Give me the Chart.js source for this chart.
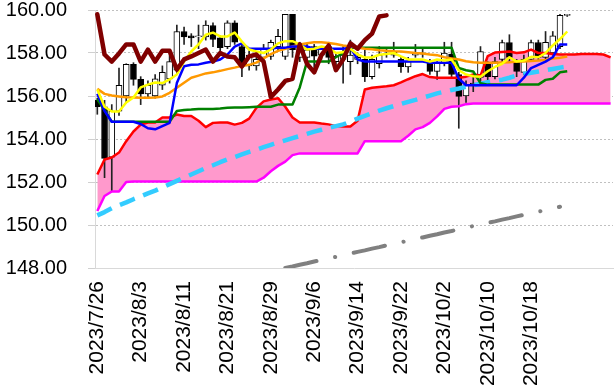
<!DOCTYPE html>
<html>
<head>
<meta charset="utf-8">
<script src="https://cdn.jsdelivr.net/npm/chart.js@4.4.1/dist/chart.umd.min.js"></script>
<style>
  html, body { margin: 0; padding: 0; background: #ffffff; }
  #wrap { width: 615px; height: 388px; }
</style>
</head>
<body>
<div id="wrap"><canvas id="c" width="615" height="388"></canvas></div>
<script>
// ---- categories (trading days; the last 6 slots are future cloud slots without a date)
const dates = ['2023/7/26','2023/7/27','2023/7/28','2023/7/31','2023/8/1','2023/8/2','2023/8/3','2023/8/4','2023/8/7','2023/8/8',
  '2023/8/9','2023/8/10','2023/8/11','2023/8/14','2023/8/15','2023/8/16','2023/8/17','2023/8/18','2023/8/21','2023/8/22',
  '2023/8/23','2023/8/24','2023/8/25','2023/8/28','2023/8/29','2023/8/30','2023/8/31','2023/9/1','2023/9/4','2023/9/5',
  '2023/9/6','2023/9/7','2023/9/8','2023/9/11','2023/9/12','2023/9/13','2023/9/14','2023/9/15','2023/9/18','2023/9/19',
  '2023/9/20','2023/9/21','2023/9/22','2023/9/25','2023/9/26','2023/9/27','2023/9/28','2023/9/29','2023/10/2','2023/10/3',
  '2023/10/4','2023/10/5','2023/10/6','2023/10/9','2023/10/10','2023/10/11','2023/10/12','2023/10/13','2023/10/16','2023/10/17',
  '2023/10/18','2023/10/19','2023/10/20','2023/10/23','2023/10/24','2023/10/25','','','','','',''];
const labelEvery = 6;
const lastLabelIndex = 60;

// ---- y tick labels
const yTicks = [148, 150, 152, 154, 156, 158, 160];

// ---- candles
const open  = [155.8,155.5,153.15,155.3,156.0,157.47,156.77,156.1,156.0,156.5,
  156.8,157.2,159.0,158.8,158.75,158.75,159.28,158.7,158.3,159.4,
  158.3,157.4,157.4,157.8,157.84,158.3,157.84,159.8,157.8,157.8,
  158.3,157.9,158.3,157.6,157.7,157.6,157.7,157.7,156.9,157.5,
  157.95,157.9,157.7,157.35,157.9,158.0,157.56,157.14,157.55,157.95,
  157.0,156.0,156.5,156.86,157.47,156.9,157.7,158.49,157.6,157.1,
  157.7,158.49,157.8,158.0,158.3,159.75];
const high  = [155.9,155.8,155.6,157.3,157.5,157.55,156.9,156.7,157.0,157.4,
  158.1,159.3,159.2,158.9,159.3,159.5,159.4,158.8,159.5,159.5,
  158.4,158.1,157.9,158.4,158.6,159.1,159.8,159.8,158.5,158.4,
  158.4,158.3,158.5,158.0,158.3,158.6,158.0,158.2,157.9,158.3,
  158.2,158.5,157.8,157.8,158.4,158.2,157.7,157.6,158.5,158.5,
  157.1,156.7,156.9,158.3,157.6,157.8,158.6,158.85,157.7,157.9,
  158.6,158.6,159.0,159.0,159.8,159.8];
const low   = [155.15,152.2,151.55,155.1,155.7,156.5,155.6,155.9,155.9,156.3,
  156.6,157.0,158.4,158.3,158.2,158.6,158.3,157.9,158.2,158.4,
  156.9,157.2,157.2,157.6,157.7,158.1,157.7,157.8,157.6,157.5,
  157.2,157.7,157.5,157.3,156.6,157.0,157.5,156.67,156.8,157.3,
  157.8,157.8,157.1,157.1,157.8,157.8,157.0,156.77,157.4,156.9,
  154.5,155.7,156.2,156.7,156.7,156.8,157.5,157.6,156.9,157.0,
  157.6,157.7,157.7,157.9,158.2,159.7];
const close = [155.5,153.1,155.3,156.5,157.47,156.77,156.1,156.5,156.8,157.1,
  157.6,159.0,158.75,158.7,158.8,159.3,158.63,158.25,159.4,158.5,
  157.47,157.9,157.7,158.2,158.5,158.77,159.8,158.16,158.3,158.15,
  157.85,158.2,157.8,157.85,157.9,157.9,157.8,156.9,157.7,157.9,
  158.0,158.05,157.37,157.6,158.0,157.95,157.14,157.56,158.0,157.0,
  155.98,156.5,156.6,158.07,156.9,157.6,158.49,157.8,157.14,157.7,
  158.49,157.8,158.5,158.8,159.75,159.75];

// ---- lines
const tenkan = [156.1,155.3,154.8,154.8,154.8,154.8,154.7,154.5,154.45,154.6,
  154.75,156.6,157.38,157.45,157.47,157.55,157.6,157.7,157.93,158.3,
  158.45,158.2,158.2,158.2,158.2,158.25,158.25,158.3,158.3,158.3,
  158.2,158.2,158.2,158.2,158.2,158.25,157.7,157.6,157.6,157.6,
  157.6,157.6,157.6,157.6,157.6,157.6,157.55,157.55,157.55,157.55,
  156.8,156.5,156.5,156.5,156.5,156.5,156.5,156.5,156.5,156.85,
  157.3,157.45,157.6,157.8,158.4,158.4];
const kijun = [155.85,155.35,154.8,154.8,154.8,154.8,154.8,154.8,154.8,154.8,
  154.8,155.3,155.35,155.37,155.4,155.4,155.4,155.42,155.45,155.46,
  155.46,155.48,155.5,155.5,155.5,155.6,155.6,155.6,156.4,157.6,
  157.6,157.6,157.6,157.8,158.0,158.25,158.25,158.25,158.25,158.25,
  158.25,158.25,158.25,158.25,158.25,158.25,158.25,158.25,158.25,158.25,
  157.3,157.2,157.14,156.6,156.53,156.53,156.53,156.53,156.53,156.53,
  156.53,156.53,156.75,156.8,157.1,157.15];
const spanA = [152.35,153.05,153.14,153.37,153.9,154.35,154.67,154.77,154.77,155.0,
  155.0,155.14,155.07,155.07,154.85,154.55,154.75,154.77,154.77,154.67,
  154.75,154.95,155.45,155.75,155.84,155.9,155.5,155.0,154.77,154.77,
  154.77,154.72,154.68,154.6,154.58,154.58,154.85,156.3,156.38,156.42,
  156.45,156.5,156.63,156.78,156.92,157.02,156.88,156.85,156.85,156.85,
  156.85,156.9,157.0,156.95,157.85,158.02,158.05,158.07,158.0,158.03,
  158.16,158.0,158.0,157.95,157.93,157.93,157.93,157.95,157.95,157.95,
  157.93,157.8];
const spanB = [150.65,151.35,151.56,151.56,152.0,152.02,152.02,152.02,152.02,152.02,
  152.02,152.02,152.02,152.02,152.02,152.02,152.02,152.02,152.02,152.02,
  152.02,152.02,152.02,152.2,152.5,152.75,152.95,153.25,153.33,153.33,
  153.33,153.33,153.33,153.33,153.33,153.33,153.33,153.9,153.9,153.9,
  153.9,153.9,153.9,154.15,154.45,154.55,154.75,155.05,155.4,155.5,
  155.52,155.62,155.65,155.65,155.65,155.65,155.65,155.65,155.65,155.65,
  155.65,155.65,155.65,155.65,155.65,155.65,155.65,155.65,155.65,155.65,
  155.65,155.65];
const chikou = [159.8,157.93,157.6,157.98,158.4,158.4,157.6,158.16,157.6,158.1,
  158.1,157.23,157.7,157.84,158.0,158.16,157.6,158.0,157.84,157.8,
  157.37,157.84,157.93,157.6,155.95,156.3,156.7,156.8,158.4,157.5,
  157.1,157.9,158.35,157.2,157.7,158.45,158.2,158.6,158.9,159.7,
  159.75];
const ma5 = [156.3,155.5,155.28,155.28,155.7,155.93,156.4,156.53,156.63,156.6,
  156.77,157.0,157.6,158.07,158.4,158.85,158.95,158.77,158.77,158.95,
  158.53,158.16,158.07,158.0,158.16,158.45,158.55,158.55,158.4,158.16,
  158.2,158.3,158.25,158.0,158.03,158.2,157.93,157.79,157.79,157.92,
  157.95,158.0,157.84,157.7,157.7,157.7,157.6,157.7,157.65,157.7,
  157.2,157.0,156.92,156.9,157.15,157.35,157.5,157.8,157.6,157.65,
  157.82,157.8,158.0,158.35,158.65,159.0];
const ma25 = [156.33,156.1,156.02,155.98,155.94,155.93,155.92,155.92,155.93,155.98,
  156.15,156.38,156.62,156.85,156.95,157.05,157.1,157.17,157.25,157.32,
  157.4,157.45,157.55,157.75,157.95,158.1,158.2,158.3,158.4,158.45,
  158.5,158.5,158.47,158.42,158.35,158.3,158.25,158.2,158.17,158.13,
  158.1,158.08,158.07,158.04,158.0,157.98,157.93,157.9,157.8,157.75,
  157.7,157.62,157.57,157.55,157.55,157.55,157.56,157.57,157.6,157.6,
  157.63,157.65,157.68,157.74,157.78,157.84];
const ma75 = [150.45,150.6,150.78,150.92,151.05,151.2,151.33,151.47,151.6,151.75,
  151.9,152.05,152.2,152.35,152.5,152.65,152.78,152.92,153.05,153.16,
  153.28,153.4,153.5,153.62,153.73,153.84,153.94,154.04,154.14,154.24,
  154.34,154.43,154.52,154.6,154.68,154.8,154.95,155.08,155.2,155.32,
  155.43,155.53,155.63,155.73,155.82,155.92,156.02,156.12,156.2,156.28,
  156.35,156.43,156.5,156.57,156.64,156.7,156.76,156.85,156.95,157.02,
  157.08,157.14,157.2,157.26,157.32,157.37];
const trendStart = 26;
const trend = [148.0,148.07,148.15,148.22,148.3,148.37,148.45,148.52,148.6,148.67,
  148.75,148.82,148.9,148.97,149.05,149.12,149.2,149.27,149.35,149.42,
  149.5,149.57,149.65,149.72,149.8,149.87,149.95,150.02,150.1,150.17,
  150.25,150.32,150.4,150.47,150.55,150.62,150.7,150.77,150.85];

// ---- helpers
const pts = (arr, start = 0) => arr.map((v, k) => ({ x: start + k, y: v }));
const lineDs = (label, arr, color, width, extra = {}, start = 0) => Object.assign({
  type: 'line', label, data: pts(arr, start), borderColor: color, backgroundColor: color,
  borderWidth: width, pointRadius: 0, tension: 0, fill: false,
  borderJoinStyle: 'round'
}, extra);

const datasets = [
  lineDs('遅行スパン', chikou, '#800000', 4.5, { borderCapStyle: 'round' }),
  lineDs('5日移動平均', ma5, '#FFFF00', 2.5),
  lineDs('転換線', tenkan, '#0000FF', 2.5),
  lineDs('25日移動平均', ma25, '#FF9900', 2.5),
  lineDs('基準線', kijun, '#008000', 2.5),
  lineDs('75日移動平均', ma75, '#33CCFF', 4.5, { borderDash: [16, 9] }),
  lineDs('トレンド', trend, '#808080', 4, { borderDash: [32, 19, 0.1, 19], borderCapStyle: 'round' }, trendStart),
  lineDs('先行スパン1', spanA, '#FF0000', 2.5, { fill: { target: 8 }, backgroundColor: '#FF99CC' }),
  lineDs('先行スパン2', spanB, '#FF00FF', 2.5),
  {
    type: 'bar', label: '実体',
    data: open.map((o, i) => ({ x: i, y: [o, close[i]] })),
    backgroundColor: open.map((o, i) => close[i] >= o ? '#FFFFFF' : '#000000'),
    borderColor: '#000000', borderWidth: 1, borderSkipped: false,
    barThickness: 6, grouped: false, minBarLength: 1
  },
  {
    type: 'bar', label: 'ヒゲ',
    data: high.map((h, i) => ({ x: i, y: [low[i], h] })),
    backgroundColor: '#222222', borderWidth: 0,
    barThickness: 1, grouped: false
  }
];

new Chart(document.getElementById('c'), {
  type: 'line',
  data: { datasets },
  options: {
    responsive: false,
    devicePixelRatio: 1,
    animation: false,
    layout: { padding: { top: 10, right: 2, bottom: 0, left: 0 } },
    plugins: {
      legend: { display: false },
      tooltip: { enabled: false },
      filler: { drawTime: 'beforeDatasetsDraw', propagate: false }
    },
    scales: {
      x: {
        type: 'linear', offset: false,
        min: -0.32, max: 71.33,
        grid: { display: false, drawTicks: false, offset: false },
        border: { display: true, color: '#D9D9D9', width: 1 },
        ticks: {
          stepSize: labelEvery, includeBounds: false, autoSkip: false,
          minRotation: 90, maxRotation: 90, padding: 13,
          color: '#000000',
          font: { family: '"Liberation Sans", Arial, sans-serif', size: 21 },
          callback: (v) => (Number.isInteger(v) && v >= 0 && v <= lastLabelIndex) ? dates[v] : ''
        },
        afterFit: (s) => { s.height = 120; s.paddingLeft = 0; s.paddingRight = 0; }
      },
      y: {
        type: 'linear', min: yTicks[0], max: yTicks[yTicks.length - 1],
        afterBuildTicks: (s) => { s.ticks = yTicks.map(v => ({ value: v })); },
        grid: { color: '#C0C0C0', lineWidth: 1, drawTicks: true, tickLength: 7, tickColor: '#D0D0D0' },
        border: { display: true, color: '#D9D9D9', width: 1, dash: [2, 2] },
        ticks: {
          padding: 21, color: '#000000',
          font: { family: '"Liberation Sans", Arial, sans-serif', size: 20 },
          callback: (v) => Number(v).toFixed(2)
        },
        afterFit: (s) => { s.width = 95; s.paddingTop = 0; s.paddingBottom = 0; }
      }
    }
  }
});
</script>
</body>
</html>
